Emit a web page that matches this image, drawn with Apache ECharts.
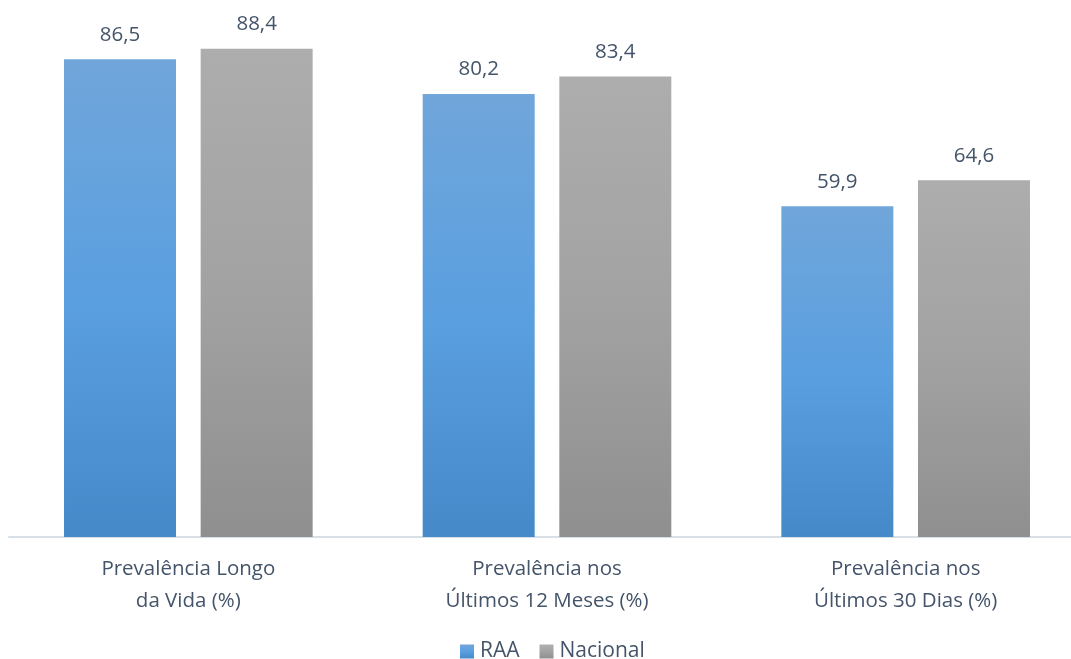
<!DOCTYPE html>
<html><head><meta charset="utf-8">
<script src="https://cdn.jsdelivr.net/npm/echarts@6/dist/echarts.min.js"></script>
<style>html,body{margin:0;padding:0;background:#fff}#c{width:1071px;height:659px}</style>
</head><body><div id="c"></div>
<script>
const categories = ['Prevalência Longo\nda Vida (%)', 'Prevalência nos\nÚltimos 12 Meses (%)', 'Prevalência nos\nÚltimos 30 Dias (%)'];
const raa = [86.5, 80.2, 59.9];
const nacional = [88.4, 83.4, 64.6];
const seriesNames = ['RAA', 'Nacional'];

const font = '"Open Sans", "Noto Sans", sans-serif';
const txt = '#44546a';
function grad(top, mid, bot) {
  return new echarts.graphic.LinearGradient(0, 0, 0, 1, [
    {offset: 0, color: top}, {offset: 0.5, color: mid}, {offset: 1, color: bot}
  ]);
}
const chart = echarts.init(document.getElementById('c'));
chart.setOption({
  animation: false,
  textStyle: {fontFamily: font},
  grid: {left: 9, top: 40, right: -14, height: 497, containLabel: false, outerBoundsMode: 'none'},
  legend: {
    top: 636, left: 455, itemWidth: 14, itemHeight: 14, itemGap: 20, icon: 'rect',
    textStyle: {color: '#44546a', fontSize: 21, fontFamily: font, padding: [0, 0, 0, 1]},
    data: seriesNames.map((n, i) => ({name: n, itemStyle: {color: i === 0 ? grad('#70a6da', '#5a9fe0', '#4589c9') : grad('#b0b0b0', '#a3a3a3', '#8f8f8f')}}))
  },
  xAxis: {
    type: 'category', data: categories,
    axisLine: {lineStyle: {color: '#d9dfe6', width: 2}},
    axisTick: {show: false},
    axisLabel: {color: txt, fontSize: 20.5, lineHeight: 32, margin: 16, fontFamily: font}
  },
  yAxis: {type: 'value', min: 0, max: 90, show: false, splitLine: {show: false}},
  series: [
    {name: seriesNames[0], type: 'bar', data: raa, barWidth: 112, barGap: '22%',
     itemStyle: {color: grad('#70a6da', '#5a9fe0', '#4589c9')},
     label: {show: true, position: 'top', distance: 14, color: txt, fontSize: 20.5, fontFamily: font, formatter: p => String(p.value).replace('.', ',')}},
    {name: seriesNames[1], type: 'bar', data: nacional, barWidth: 112, barGap: '22%',
     itemStyle: {color: grad('#adadad', '#a2a2a2', '#8f8f8f')},
     label: {show: true, position: 'top', distance: 14, color: txt, fontSize: 20.5, fontFamily: font, formatter: p => String(p.value).replace('.', ',')}}
  ]
});
</script></body></html>
